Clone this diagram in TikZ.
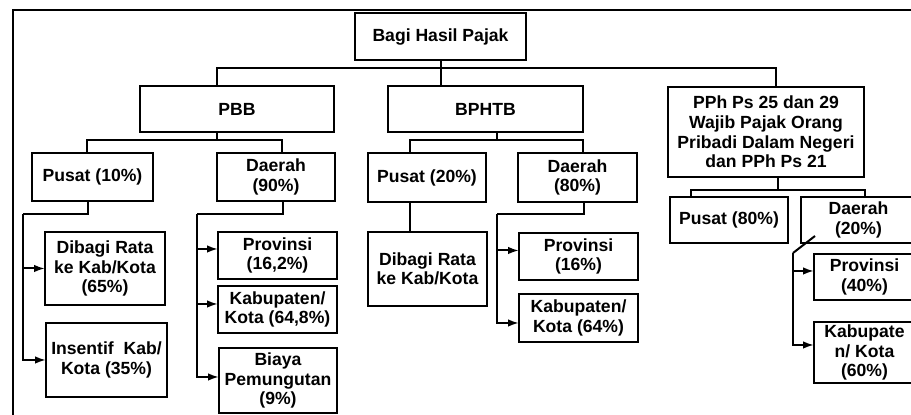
\documentclass[tikz,border=0pt]{standalone}
\usepackage{fontspec}
\setmainfont{Liberation Sans}
\usetikzlibrary{arrows.meta}

\begin{document}
\begin{tikzpicture}[x=0.5pt, y=-0.5pt, inner sep=0pt, outer sep=0pt,
	kotak/.style={draw=black, line width=1pt, align=center, font=\fontsize{8.8}{9.8}\selectfont\bfseries},
	garis/.style={line width=1pt},
	panah/.style={line width=1pt, -{Latex[length=5.5pt,width=3.8pt]}}]

	\clip (0,0) rectangle (911,415);

	% bingkai luar
	\draw[line width=1.2pt] (13,440) -- (13,10) -- (930,10);

	\node[kotak, minimum width=85.5pt, minimum height=23.5pt](pajak) at (440.5,36.5) {Bagi Hasil Pajak};
	\node[kotak, minimum width=97pt, minimum height=23pt](pbb) at (237,109) {PBB};
	\node[kotak, minimum width=97.5pt, minimum height=23pt](bphtb) at (485.5,109) {BPHTB};
	\node[kotak, minimum width=98pt, minimum height=45pt](pph) at (766,132) {PPh Ps 25 dan 29\\Wajib Pajak Orang\\Pribadi Dalam Negeri\\dan PPh Ps 21};

	\node[kotak, minimum width=60.5pt, minimum height=24pt](pusatA) at (92.5,177) {Pusat (10\%)};
	\node[kotak, minimum width=59pt, minimum height=24pt](daerahA) at (276,177) {Daerah\\(90\%)};
	\node[kotak, minimum width=59pt, minimum height=24.5pt](pusatB) at (427,177.5) {Pusat (20\%)};
	\node[kotak, minimum width=59.5pt, minimum height=24.5pt](daerahB) at (577.5,177.5) {Daerah\\(80\%)};
	\node[kotak, minimum width=59pt, minimum height=23pt](pusatC) at (729,220) {Pusat (80\%)};
	\node[kotak, minimum width=57.5pt, minimum height=23pt](daerahC) at (858.5,220) {Daerah\\(20\%)};

	\node[kotak, minimum width=60pt, minimum height=36.5pt](dibagiA) at (105,268.5) {Dibagi Rata\\ke Kab/Kota\\(65\%)};
	\node[kotak, minimum width=60.5pt, minimum height=37pt](insentifA) at (106.5,360) {Insentif\ \ Kab/\\Kota (35\%)};
	\node[kotak, minimum width=59.5pt, minimum height=23.5pt](provA) at (277.5,255.5) {Provinsi\\(16,2\%)};
	\node[kotak, minimum width=59.5pt, minimum height=23.5pt](kabA) at (277.5,309.5) {Kabupaten/\\Kota (64,8\%)};
	\node[kotak, minimum width=59pt, minimum height=32.5pt](biayaA) at (278,380.5) {Biaya\\Pemungutan\\(9\%)};

	\node[kotak, minimum width=59.5pt, minimum height=37pt](dibagiB) at (427.5,269) {Dibagi Rata\\ke Kab/Kota};
	\node[kotak, minimum width=59.5pt, minimum height=23.5pt](provB) at (578.5,256.5) {Provinsi\\(16\%)};
	\node[kotak, minimum width=59.5pt, minimum height=24pt](kabB) at (578.5,318) {Kabupaten/\\Kota (64\%)};

	\node[kotak, minimum width=50.5pt, minimum height=23pt](provC) at (864.5,277) {Provinsi\\(40\%)};
	\node[kotak, minimum width=50.5pt, minimum height=30.5pt](kabC) at (864.5,352.5) {Kabupate\\n/ Kota\\(60\%)};

	% titik bantu
	\coordinate (t1) at (217,68);
	\coordinate (t2) at (776,68);
	\coordinate (p1) at (87,140);
	\coordinate (p2) at (282,140);
	\coordinate (q0) at (497,140);
	\coordinate (q1) at (410,140);
	\coordinate (q2) at (583,140);
	\coordinate (r0) at (778,190);
	\coordinate (r1) at (691,190);
	\coordinate (r2) at (865,190);
	\coordinate (a0) at (88,214);
	\coordinate (a1) at (23,214);
	\coordinate (b0) at (283,214);
	\coordinate (b1) at (197,214);
	\coordinate (c0) at (584,214);
	\coordinate (c1) at (497,214);
	\coordinate (d0) at (815,236);
	\coordinate (d1) at (793,253);

	% tingkat atas
	\draw[garis] (pajak.south) -- (pajak.south |- bphtb.north);
	\draw[garis] (t1 |- pbb.north) -- (t1) -- (t2) -- (t2 |- pph.north);

	% PBB, BPHTB, PPh
	\draw[garis] (t1 |- pbb.south) -- (t1 |- p1);
	\draw[garis] (p1 |- pusatA.north) -- (p1) -- (p2) -- (p2 |- daerahA.north);
	\draw[garis] (q0 |- bphtb.south) -- (q0);
	\draw[garis] (q1 |- pusatB.north) -- (q1) -- (q2) -- (q2 |- daerahB.north);
	\draw[garis] (r0 |- pph.south) -- (r0);
	\draw[garis] (r1 |- pusatC.north) -- (r1) -- (r2) -- (r2 |- daerahC.north);

	% pembagian ke bawah
	\draw[garis] (q1 |- pusatB.south) -- (q1 |- dibagiB.north);

	\draw[garis] (a0 |- pusatA.south) -- (a0) -- (a1);
	\draw[panah] (a1) |- (dibagiA.west);
	\draw[panah] (a1) |- (insentifA.west);

	\draw[garis] (b0 |- daerahA.south) -- (b0) -- (b1);
	\draw[panah] (b1) |- ([yshift=3.25pt]provA.west);
	\draw[panah] (b1) |- ([yshift=2.75pt]kabA.west);
	\draw[panah] (b1) |- ([yshift=1.75pt]biayaA.west);

	\draw[garis] (c0 |- daerahB.south) -- (c0) -- (c1);
	\draw[panah] (c1) |- ([yshift=3pt]provB.west);
	\draw[panah] (c1) |- ([yshift=-2.5pt]kabB.west);

	\draw[garis] (d0) -- (d1);
	\draw[panah] (d1) |- ([yshift=3pt]provC.west);
	\draw[panah] (d1) |- ([yshift=3.75pt]kabC.west);

\end{tikzpicture}
\end{document}
